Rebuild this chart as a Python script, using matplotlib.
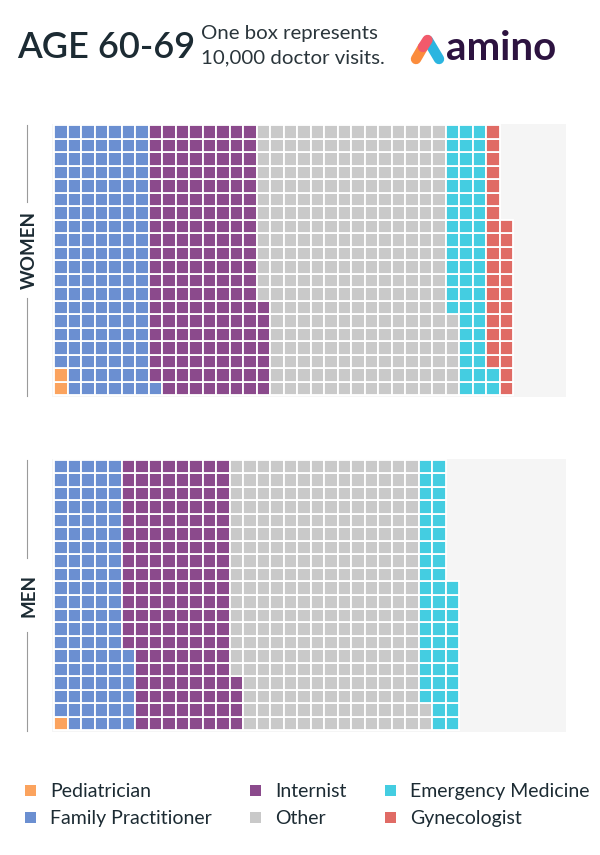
import numpy as np
import matplotlib.pyplot as plt
from matplotlib.patches import Rectangle

# categories and box counts (one box = 10,000 visits)
categories = ["Pediatrician", "Family Practitioner", "Internist", "Other",
              "Emergency Medicine", "Gynecologist"]
colors = ["#fba35e", "#6b8fd1", "#8b4a8c", "#c9c9c9", "#44cde1", "#e06b65"]
women_boxes = [2, 139, 166, 279, 56, 31]
men_boxes = [1, 105, 158, 278, 49, 0]

ROWS = 20
W, H = 600, 855
TXT = "#1c2b33"
FONT = ["Lato", "DejaVu Sans"]

fig = plt.figure(figsize=(W / 100, H / 100), dpi=100)
fig.patch.set_facecolor("white")

# overlay axes in pixel coordinates for the header, side labels and legend
ov = fig.add_axes([0, 0, 1, 1])
ov.set_xlim(0, W)
ov.set_ylim(H, 0)
ov.axis("off")


def px_axes(left, top, right, bottom):
    return fig.add_axes([left / W, 1 - bottom / H, (right - left) / W, (bottom - top) / H])


def draw_waffle(ax, counts):
    pitch = 13.5
    # panel spans 52..566 px, grid starts at 54 px
    ax.set_xlim(-2 / pitch, (566 - 54) / pitch)
    ax.set_ylim(-1.5 / pitch, ROWS + 1.5 / pitch)
    ax.add_patch(Rectangle((-2 / pitch, -1.5 / pitch), 40, ROWS + 3 / pitch,
                           facecolor="#f5f5f5", edgecolor="none", zorder=0))
    i = 0
    for n, c in zip(counts, colors):
        for _ in range(n):
            col, row = divmod(i, ROWS)
            ax.add_patch(Rectangle((col, row), 1, 1, facecolor=c,
                                   edgecolor="white", linewidth=1.3, zorder=2))
            i += 1
    ax.axis("off")


ax_w = px_axes(52, 124, 566, 397)
draw_waffle(ax_w, women_boxes)
ax_m = px_axes(52, 458.5, 566, 731.5)
draw_waffle(ax_m, men_boxes)

# side labels with gray rules
for label, y0, y1, yc, gap in [("WOMEN", 125, 396, 250, 48), ("MEN", 460, 731, 595, 37)]:
    ov.plot([27, 27], [y0, yc - gap], color="#9a9a9a", lw=0.8)
    ov.plot([27, 27], [yc + gap, y1], color="#9a9a9a", lw=0.8)
    ov.text(29, yc, label, rotation=90, ha="center", va="center", fontsize=13.5,
            fontweight="bold", color=TXT, family=FONT)

# header
ov.text(17, 47, "AGE 60-69", ha="left", va="center", fontsize=26,
        fontweight="semibold", color=TXT, family=FONT)
ov.text(201, 34, "One box represents", ha="left", va="center", fontsize=14.7,
        fontweight="normal", color="#2a353b", family=FONT)
ov.text(201, 58, "10,000 doctor visits.", ha="left", va="center", fontsize=14.7,
        fontweight="normal", color="#2a353b", family=FONT)

# amino logo
ov.plot([428, 439], [40.5, 59], color="#2bb5e0", lw=7.5, solid_capstyle="round")
ov.plot([416, 423], [59, 47], color="#fb8c3c", lw=7.5, solid_capstyle="round")
ov.plot([423, 427.5], [47, 40], color="#f25a6b", lw=7.5, solid_capstyle="round")
ov.text(446, 48, "amino", ha="left", va="center", fontsize=29, fontweight="bold",
        color="#2d1340", family=FONT)

# legend
legend_pos = [(30, 791), (30, 818), (255, 791), (255, 818), (390, 791), (390, 818)]
for k, (x, y) in enumerate(legend_pos):
    ov.add_patch(Rectangle((x - 5, y - 6), 11, 11, facecolor=colors[k], edgecolor="none"))
    ov.text(x + 20, y, categories[k], ha="left", va="center", fontsize=14,
            color=TXT, family=FONT)

fig.savefig("out.png", dpi=100, facecolor="white")
